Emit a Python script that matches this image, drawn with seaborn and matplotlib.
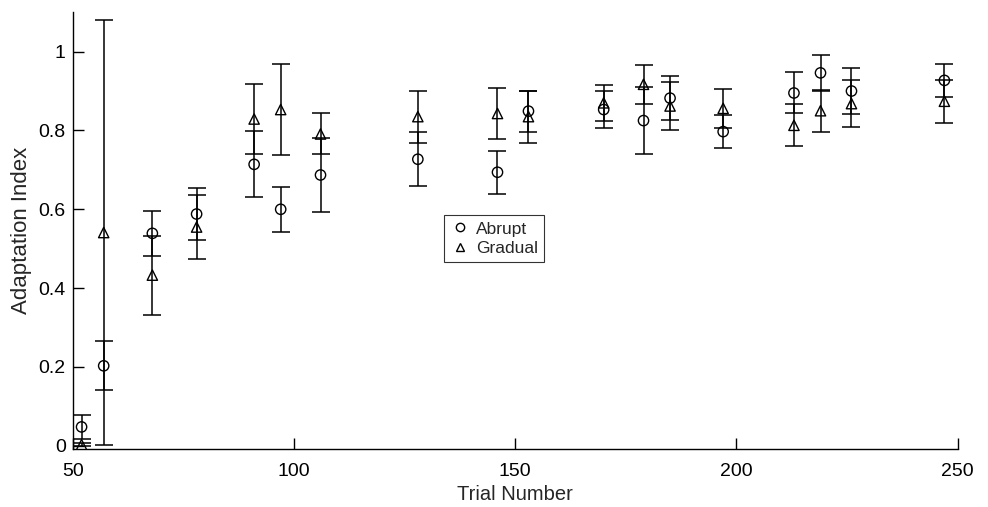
import matplotlib
matplotlib.use('Agg')
import matplotlib.pyplot as plt
from matplotlib.lines import Line2D
import pandas as pd
import seaborn as sns

# Data
trials = [52, 57, 68, 78, 91, 97, 106, 128, 146, 153, 170, 179, 185, 197, 213, 219, 226, 247]
abrupt = [0.048, 0.203, 0.539, 0.588, 0.714, 0.600, 0.687, 0.727, 0.694, 0.849,
          0.853, 0.825, 0.882, 0.797, 0.895, 0.946, 0.900, 0.927]
abrupt_err = [0.030, 0.062, 0.057, 0.067, 0.084, 0.057, 0.093, 0.068, 0.054, 0.052,
              0.048, 0.085, 0.055, 0.042, 0.052, 0.045, 0.059, 0.042]
gradual = [0.003, 0.541, 0.433, 0.555, 0.829, 0.853, 0.791, 0.835, 0.843, 0.835,
           0.870, 0.917, 0.862, 0.856, 0.813, 0.850, 0.868, 0.874]
gradual_err = [0.003, 0.540, 0.100, 0.082, 0.090, 0.116, 0.052, 0.066, 0.064, 0.066,
               0.045, 0.050, 0.060, 0.049, 0.053, 0.053, 0.059, 0.055]
y_ticks = [0, 0.2, 0.4, 0.6, 0.8, 1]
y_tick_labels = ['0', '0.2', '0.4', '0.6', '0.8', '1']
x_ticks = [50, 100, 150, 200, 250]

df = pd.DataFrame({
    'Trial': trials * 2,
    'Index': abrupt + gradual,
    'Err': abrupt_err + gradual_err,
    'Group': ['Abrupt'] * len(trials) + ['Gradual'] * len(trials),
})

sns.set_style("ticks")
plt.rcParams['font.family'] = ['Liberation Sans', 'DejaVu Sans']

fig = plt.figure(figsize=(9.88, 5.07), dpi=100)
ax = fig.add_axes([0.0736, 0.1144, 0.8957, 0.8616])

# error bars
for grp in ['Abrupt', 'Gradual']:
    sub = df[df['Group'] == grp]
    ax.errorbar(sub['Trial'], sub['Index'], yerr=sub['Err'], fmt='none',
                ecolor='black', elinewidth=1.1, capsize=6.5, capthick=1.1, zorder=2)

# markers
sns.scatterplot(data=df, x='Trial', y='Index', style='Group',
                markers={'Abrupt': 'o', 'Gradual': '^'}, s=55,
                facecolors='none', edgecolor='black', linewidth=1.0,
                legend=False, ax=ax, zorder=3)
for coll in ax.collections:
    coll.set_facecolor('none')
    coll.set_edgecolor('black')

ax.set_xlim(50, 250)
ax.set_ylim(-0.008, 1.1)
ax.set_xticks(x_ticks)
ax.set_yticks(y_ticks)
ax.set_yticklabels(y_tick_labels)
ax.tick_params(direction='in', length=8, width=1, labelsize=14, colors='black')
ax.tick_params(axis='x', pad=10)
ax.tick_params(axis='y', pad=5)
for side in ['top', 'right']:
    ax.spines[side].set_visible(False)
for side in ['left', 'bottom']:
    ax.spines[side].set_color('black')
    ax.spines[side].set_linewidth(1)

ax.set_xlabel('Trial Number', fontsize=14.5)
ax.set_ylabel('Adaptation Index', fontsize=16)
ax.xaxis.set_label_coords(0.5, -0.082)
ax.yaxis.set_label_coords(-0.046, 0.5)

handles = [Line2D([], [], linestyle='none', marker='o', markersize=6, markerfacecolor='none',
                  markeredgecolor='black', label='Abrupt'),
           Line2D([], [], linestyle='none', marker='^', markersize=6, markerfacecolor='none',
                  markeredgecolor='black', label='Gradual')]
leg = ax.legend(handles=handles, loc='upper left', bbox_to_anchor=(0.419, 0.535),
                fontsize=12.5, frameon=True, fancybox=False, edgecolor='black',
                handletextpad=0.3, handlelength=1.2, borderpad=0.35, labelspacing=0.25,
                borderaxespad=0)
leg.get_frame().set_linewidth(0.8)

plt.savefig('out.png', dpi=100)
plt.close()
